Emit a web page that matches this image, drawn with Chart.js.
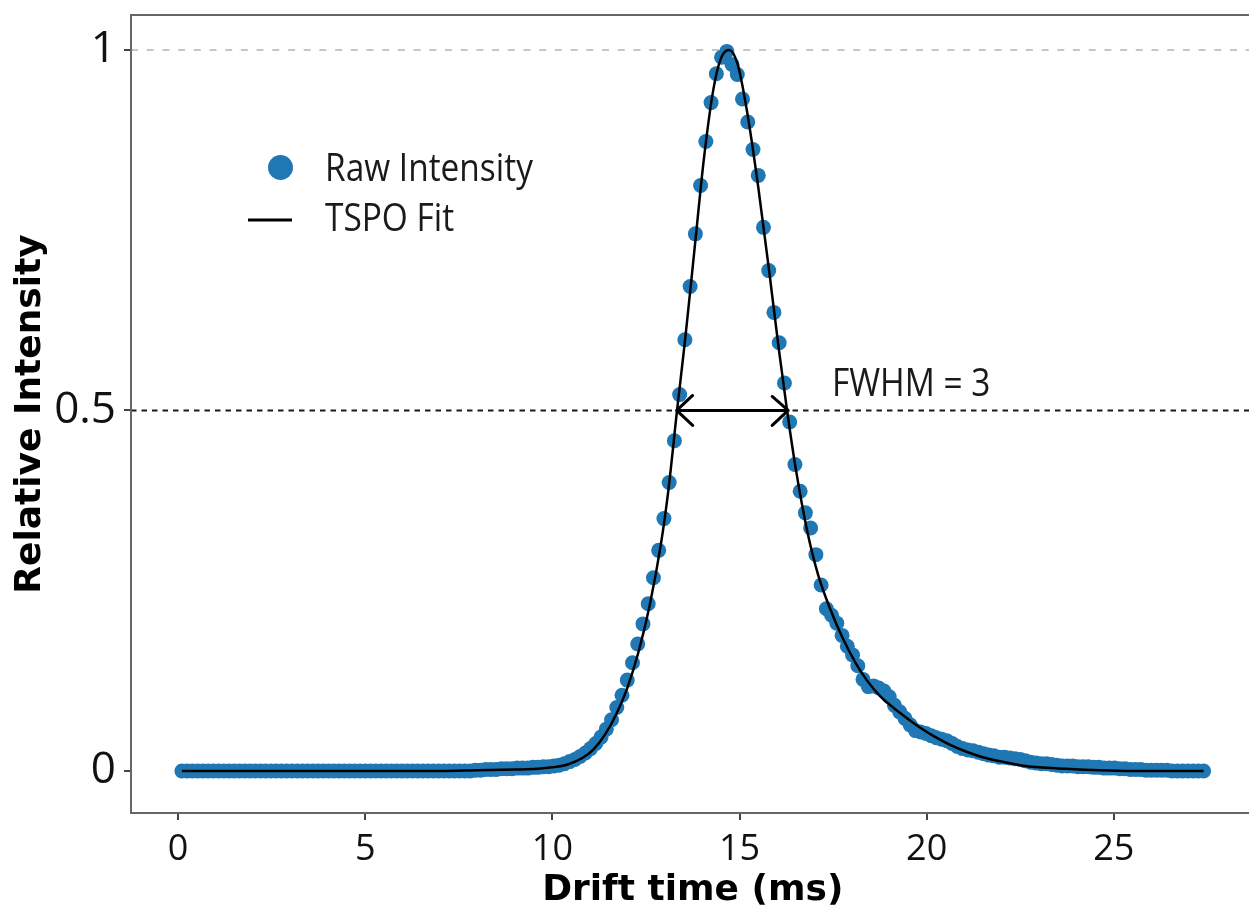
<!DOCTYPE html>
<html>
<head>
<meta charset="utf-8">
<script src="https://cdn.jsdelivr.net/npm/chart.js@4.4.0/dist/chart.umd.min.js"></script>
<style>
  html, body { margin: 0; padding: 0; background: #fff; overflow: hidden; }
  #wrap { width: 1262px; height: 905px; position: relative; }
</style>
</head>
<body>
<div id="wrap"><canvas id="chart"></canvas></div>
<script>
// raw drift-time points (ms)
const driftTime = [
  0.10, 0.24, 0.38, 0.52, 0.66, 0.80, 0.94, 1.08, 1.22, 1.36,
  1.50, 1.64, 1.78, 1.92, 2.06, 2.20, 2.34, 2.48, 2.62, 2.76,
  2.90, 3.04, 3.18, 3.32, 3.46, 3.60, 3.74, 3.88, 4.02, 4.16,
  4.30, 4.44, 4.58, 4.72, 4.86, 5.00, 5.14, 5.28, 5.42, 5.56,
  5.70, 5.84, 5.98, 6.12, 6.26, 6.40, 6.54, 6.68, 6.82, 6.96,
  7.10, 7.24, 7.38, 7.52, 7.66, 7.80, 7.94, 8.08, 8.22, 8.36,
  8.50, 8.64, 8.78, 8.92, 9.06, 9.20, 9.34, 9.48, 9.62, 9.76,
  9.90, 10.04, 10.18, 10.32, 10.46, 10.60, 10.74, 10.88, 11.02, 11.16,
  11.30, 11.44, 11.58, 11.72, 11.86, 12.00, 12.14, 12.28, 12.42, 12.56,
  12.70, 12.84, 12.98, 13.12, 13.26, 13.40, 13.54, 13.68, 13.82, 13.96,
  14.10, 14.24, 14.38, 14.52, 14.66, 14.80, 14.94, 15.08, 15.22, 15.36,
  15.50, 15.64, 15.78, 15.92, 16.06, 16.20, 16.34, 16.48, 16.62, 16.76,
  16.90, 17.04, 17.18, 17.32, 17.46, 17.60, 17.74, 17.88, 18.02, 18.16,
  18.30, 18.44, 18.58, 18.72, 18.86, 19.00, 19.14, 19.28, 19.42, 19.56,
  19.70, 19.84, 19.98, 20.12, 20.26, 20.40, 20.54, 20.68, 20.82, 20.96,
  21.10, 21.24, 21.38, 21.52, 21.66, 21.80, 21.94, 22.08, 22.22, 22.36,
  22.50, 22.64, 22.78, 22.92, 23.06, 23.20, 23.34, 23.48, 23.62, 23.76,
  23.90, 24.04, 24.18, 24.32, 24.46, 24.60, 24.74, 24.88, 25.02, 25.16,
  25.30, 25.44, 25.58, 25.72, 25.86, 26.00, 26.14, 26.28, 26.42, 26.56,
  26.70, 26.84, 26.98, 27.12, 27.26, 27.40
];
const rawIntensity = [
  0, 0, 0, 0, 0, 0, 0, 0, 0, 0,
  0, 0, 0, 0, 0, 0, 0, 0, 0, 0,
  0, 0, 0, 0, 0, 0, 0, 0, 0, 0,
  0, 0, 0, 0, 0, 0, 0, 0, 0, 0,
  0, 0, 0, 0, 0, 0, 0, 0, 0, 0,
  0, 0, 0, 0, 0, 0, 0.001, 0.001, 0.002, 0.002,
  0.002, 0.003, 0.003, 0.003, 0.004, 0.004, 0.004, 0.005, 0.005, 0.006,
  0.006, 0.007, 0.008, 0.010, 0.013, 0.016, 0.020, 0.025, 0.031, 0.038,
  0.047, 0.058, 0.071, 0.088, 0.105, 0.126, 0.150, 0.176, 0.204, 0.232,
  0.268, 0.306, 0.350, 0.400, 0.458, 0.522, 0.598, 0.672, 0.745, 0.812,
  0.873, 0.927, 0.967, 0.990, 0.998, 0.980, 0.966, 0.932, 0.900, 0.862,
  0.826, 0.754, 0.694, 0.636, 0.594, 0.538, 0.484, 0.425, 0.388, 0.358,
  0.337, 0.300, 0.258, 0.225, 0.216, 0.205, 0.188, 0.173, 0.161, 0.146,
  0.127, 0.117, 0.118, 0.115, 0.111, 0.103, 0.091, 0.082, 0.073, 0.064,
  0.056, 0.054, 0.052, 0.049, 0.046, 0.044, 0.042, 0.038, 0.034, 0.031,
  0.029, 0.028, 0.026, 0.024, 0.022, 0.021, 0.019, 0.019, 0.018, 0.017,
  0.016, 0.014, 0.012, 0.011, 0.010, 0.010, 0.009, 0.008, 0.007, 0.007,
  0.007, 0.006, 0.006, 0.006, 0.005, 0.005, 0.004, 0.004, 0.004, 0.003,
  0.003, 0.002, 0.002, 0.002, 0.001, 0.001, 0.001, 0.001, 0.001, 0,
  0, 0, 0, 0, 0, 0
];

// fitted curve
const fitTime = [
  0.1, 7.0, 8.0, 9.0, 9.6, 10.0, 10.4, 10.8, 11.1, 11.4,
  11.7, 12.0, 12.3, 12.6, 12.9, 13.1, 13.33, 13.55, 13.8, 14.05,
  14.3, 14.5, 14.72, 14.95, 15.2, 15.5, 15.8, 16.05, 16.27, 16.5,
  16.8, 17.1, 17.42, 17.75, 18.1, 18.4, 18.75, 19.3, 19.8, 20.2,
  20.6, 21.1, 21.5, 22.0, 22.5, 23.0, 23.7, 24.6, 25.5, 27.4
];
const fitIntensity = [
  0, 0, 0.001, 0.002, 0.003, 0.005, 0.009, 0.018, 0.030, 0.050,
  0.078, 0.115, 0.165, 0.230, 0.315, 0.390, 0.500, 0.600, 0.725, 0.850,
  0.945, 0.988, 1.0, 0.980, 0.915, 0.810, 0.690, 0.585, 0.500, 0.420,
  0.335, 0.272, 0.225, 0.185, 0.150, 0.126, 0.104, 0.080, 0.061, 0.048,
  0.037, 0.026, 0.019, 0.013, 0.008, 0.005, 0.003, 0.001, 0, 0
];

const xTicks = [0, 5, 10, 15, 20, 25];
const yTicks = [0, 0.5, 1];
const yTickLabels = ["0", "0.5", "1"];

const fwhmLeft = 13.32;
const fwhmRight = 16.30;
const halfMax = 0.5;
const fwhmLabel = "FWHM = 3";

const BLUE = "#1f77b4";
const LABEL_FONT = '"Open Sans", "Noto Sans", sans-serif';

function drawNarrowText(ctx, text, x, y, size) {
  ctx.save();
  ctx.translate(x, y);
  ctx.scale(0.88, 1);
  ctx.font = size + "px " + LABEL_FONT;
  ctx.fillStyle = "#1a1a1a";
  ctx.textAlign = "left";
  ctx.textBaseline = "alphabetic";
  ctx.fillText(text, 0, 0);
  ctx.restore();
}

const decorations = {
  id: "decorations",
  beforeDatasetsDraw(chart) {
    const { ctx, chartArea: a, scales: { y } } = chart;
    ctx.save();
    // y = 1 reference
    ctx.lineWidth = 2;
    ctx.strokeStyle = "#c6c6c6";
    ctx.setLineDash([7, 8.7]);
    let py = y.getPixelForValue(1);
    ctx.beginPath();
    ctx.moveTo(a.left, py);
    ctx.lineTo(a.right, py);
    ctx.stroke();
    // half max
    ctx.strokeStyle = "#1a1a1a";
    ctx.setLineDash([5.5, 5]);
    py = y.getPixelForValue(halfMax);
    ctx.beginPath();
    ctx.moveTo(a.left, py);
    ctx.lineTo(a.right, py);
    ctx.stroke();
    ctx.restore();
  },
  afterDatasetsDraw(chart) {
    const { ctx, scales: { x, y } } = chart;
    ctx.save();
    // double arrow for FWHM
    const x1 = x.getPixelForValue(fwhmLeft);
    const x2 = x.getPixelForValue(fwhmRight);
    const py = y.getPixelForValue(halfMax);
    ctx.strokeStyle = "#000";
    ctx.lineWidth = 3;
    ctx.lineCap = "round";
    ctx.lineJoin = "round";
    ctx.beginPath();
    ctx.moveTo(x1, py);
    ctx.lineTo(x2, py);
    ctx.moveTo(x1 + 16, py - 15);
    ctx.lineTo(x1, py);
    ctx.lineTo(x1 + 16, py + 15);
    ctx.moveTo(x2 - 16, py - 14);
    ctx.lineTo(x2, py);
    ctx.lineTo(x2 - 16, py + 15);
    ctx.stroke();
    ctx.restore();

    drawNarrowText(ctx, fwhmLabel, x.getPixelForValue(17.47), y.getPixelForValue(0.52), 38);

    // legend
    const raw = chart.data.datasets[1];
    const fit = chart.data.datasets[0];
    ctx.save();
    ctx.fillStyle = BLUE;
    ctx.beginPath();
    ctx.arc(280.5, 167.5, 12.5, 0, Math.PI * 2);
    ctx.fill();
    ctx.strokeStyle = "#000";
    ctx.lineWidth = 3;
    ctx.beginPath();
    ctx.moveTo(248, 220);
    ctx.lineTo(292, 220);
    ctx.stroke();
    ctx.restore();
    drawNarrowText(ctx, raw.label, 325, 181, 38);
    drawNarrowText(ctx, fit.label, 325, 231, 38);
  },
  afterDraw(chart) {
    const { ctx, chartArea: a } = chart;
    ctx.save();
    ctx.strokeStyle = "#666";
    ctx.lineWidth = 2;
    ctx.strokeRect(a.left, a.top, a.right - a.left, a.bottom - a.top);
    ctx.restore();
  }
};

new Chart(document.getElementById("chart"), {
  type: "scatter",
  data: {
    datasets: [
      {
        type: "line",
        label: "TSPO Fit",
        data: fitTime.map((t, i) => ({ x: t, y: fitIntensity[i] })),
        borderColor: "#000",
        borderWidth: 2.5,
        pointRadius: 0,
        fill: false,
        cubicInterpolationMode: "monotone",
        order: 0
      },
      {
        label: "Raw Intensity",
        data: driftTime.map((t, i) => ({ x: t, y: rawIntensity[i] })),
        pointRadius: 7.5,
        pointHoverRadius: 7.5,
        pointBorderWidth: 0,
        backgroundColor: BLUE,
        borderColor: BLUE,
        order: 1
      }
    ]
  },
  options: {
    responsive: true,
    maintainAspectRatio: false,
    animation: false,
    events: [],
    layout: { padding: { top: 15, right: 7, left: 0, bottom: 0 } },
    plugins: {
      legend: { display: false },
      tooltip: { enabled: false }
    },
    scales: {
      x: {
        type: "linear",
        min: -1.26,
        max: 28.76,
        afterBuildTicks: s => { s.ticks = xTicks.map(v => ({ value: v })); },
        afterFit: s => { s.height = 92; s.paddingLeft = 0; s.paddingRight = 0; },
        border: { display: false },
        grid: { drawOnChartArea: false, drawTicks: true, tickLength: 7, color: "#444", lineWidth: 2 },
        ticks: {
          color: "#111",
          padding: 8,
          maxRotation: 0,
          font: { family: LABEL_FONT, size: 36 },
          callback: v => String(v)
        },
        title: {
          display: true,
          text: "Drift time (ms)",
          color: "#000",
          padding: 0,
          font: { family: "DejaVu Sans", weight: "bold", size: 36, lineHeight: 0.8 }
        }
      },
      y: {
        min: -0.0583,
        max: 1.0485,
        afterBuildTicks: s => { s.ticks = yTicks.map(v => ({ value: v })); },
        afterFit: s => { s.width = 131; s.paddingTop = 0; s.paddingBottom = 0; },
        border: { display: false },
        grid: { drawOnChartArea: false, drawTicks: true, tickLength: 7, color: "#444", lineWidth: 2 },
        ticks: {
          color: "#111",
          padding: 8,
          font: { family: LABEL_FONT, size: 44 },
          callback: (v, i) => yTickLabels[i]
        },
        title: {
          display: true,
          text: "Relative Intensity",
          color: "#000",
          padding: { top: 9, bottom: 0 },
          font: { family: "DejaVu Sans", weight: "bold", size: 36 }
        }
      }
    }
  },
  plugins: [decorations]
});
</script>
</body>
</html>
